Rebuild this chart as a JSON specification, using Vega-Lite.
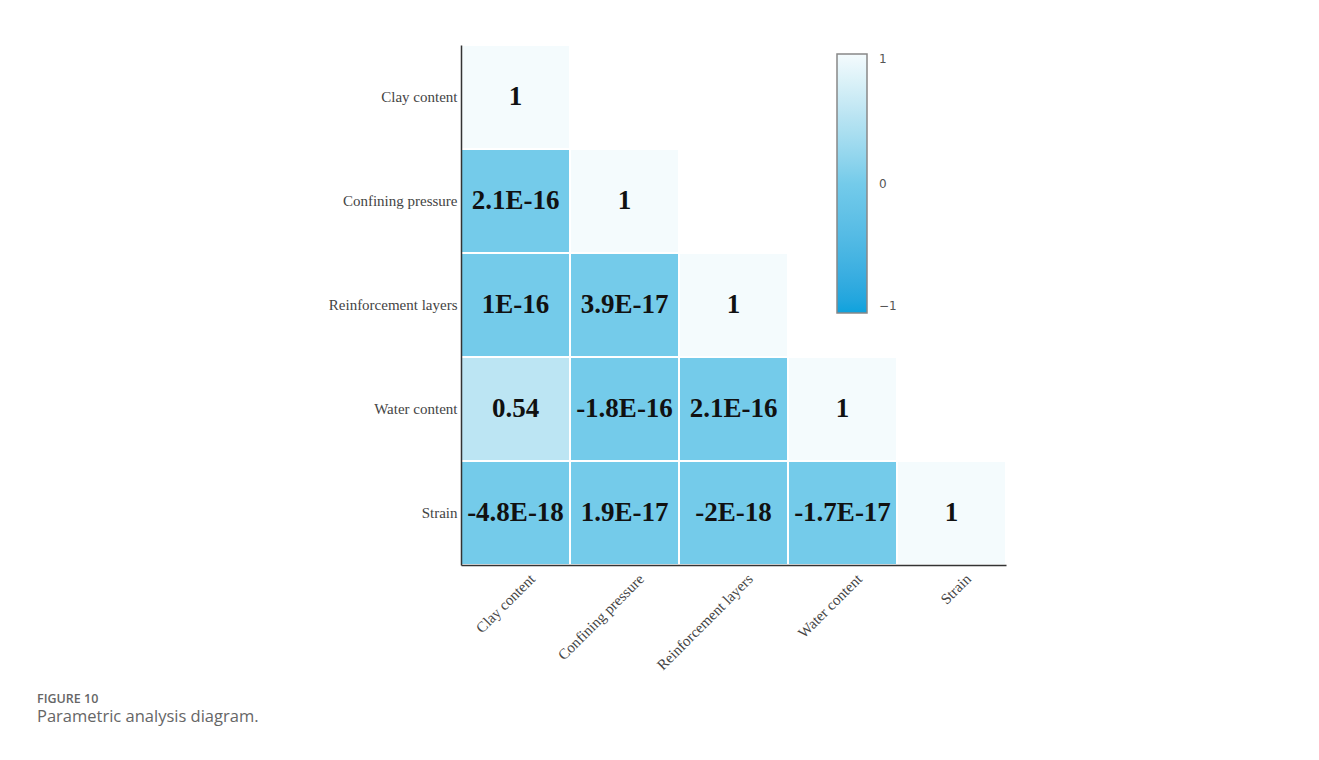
{
  "$schema": "https://vega.github.io/schema/vega-lite/v6.json",
  "autosize": {"type": "none"},
  "padding": {"left": 461, "top": 45, "right": 313, "bottom": 195},
  "width": 545,
  "height": 520,
  "background": "white",
  "title": {
    "text": "FIGURE 10",
    "subtitle": "Parametric analysis diagram.",
    "orient": "bottom",
    "anchor": "start",
    "frame": "group",
    "dx": -424,
    "offset": 20,
    "font": "Open Sans",
    "fontSize": 12.5,
    "fontWeight": 600,
    "color": "#666666",
    "subtitleFont": "Open Sans",
    "subtitleFontSize": 16.5,
    "subtitleColor": "#666666",
    "subtitlePadding": 4
  },
  "data": {
    "values": [
      {"row": "Clay content", "col": "Clay content", "value": 1, "label": "1"},
      {"row": "Confining pressure", "col": "Clay content", "value": 2.1e-16, "label": "2.1E-16"},
      {"row": "Confining pressure", "col": "Confining pressure", "value": 1, "label": "1"},
      {"row": "Reinforcement layers", "col": "Clay content", "value": 1e-16, "label": "1E-16"},
      {"row": "Reinforcement layers", "col": "Confining pressure", "value": 3.9e-17, "label": "3.9E-17"},
      {"row": "Reinforcement layers", "col": "Reinforcement layers", "value": 1, "label": "1"},
      {"row": "Water content", "col": "Clay content", "value": 0.54, "label": "0.54"},
      {"row": "Water content", "col": "Confining pressure", "value": -1.8e-16, "label": "-1.8E-16"},
      {"row": "Water content", "col": "Reinforcement layers", "value": 2.1e-16, "label": "2.1E-16"},
      {"row": "Water content", "col": "Water content", "value": 1, "label": "1"},
      {"row": "Strain", "col": "Clay content", "value": -4.8e-18, "label": "-4.8E-18"},
      {"row": "Strain", "col": "Confining pressure", "value": 1.9e-17, "label": "1.9E-17"},
      {"row": "Strain", "col": "Reinforcement layers", "value": -2e-18, "label": "-2E-18"},
      {"row": "Strain", "col": "Water content", "value": -1.7e-17, "label": "-1.7E-17"},
      {"row": "Strain", "col": "Strain", "value": 1, "label": "1"}
    ]
  },
  "encoding": {
    "x": {
      "field": "col",
      "type": "nominal",
      "scale": {"domain": ["Clay content", "Confining pressure", "Reinforcement layers", "Water content", "Strain"], "paddingInner": 0, "paddingOuter": 0},
      "axis": {
        "title": null,
        "ticks": false,
        "domainColor": "#333333",
        "domainWidth": 1.5,
        "labelAngle": -45,
        "labelFont": "Liberation Serif",
        "labelFontSize": 15,
        "labelColor": "#444444",
        "labelOffset": 12,
        "labelPadding": 6,
        "labelLimit": 300,
        "grid": false
      }
    },
    "y": {
      "field": "row",
      "type": "nominal",
      "scale": {"domain": ["Clay content", "Confining pressure", "Reinforcement layers", "Water content", "Strain"], "paddingInner": 0, "paddingOuter": 0},
      "axis": {
        "title": null,
        "ticks": false,
        "domainColor": "#333333",
        "domainWidth": 1.5,
        "labelFont": "Liberation Serif",
        "labelFontSize": 15,
        "labelColor": "#444444",
        "labelPadding": 4,
        "labelLimit": 300,
        "grid": false
      }
    }
  },
  "layer": [
    {
      "mark": {"type": "rect", "stroke": "white", "strokeWidth": 2},
      "encoding": {
        "color": {
          "field": "value",
          "type": "quantitative",
          "scale": {"type": "linear", "domain": [-1, 0, 1], "range": ["#0ea2dd", "#74cbea", "#f4fbfd"]},
          "legend": {
            "orient": "none",
            "legendX": 376,
            "legendY": 9,
            "direction": "vertical",
            "title": null,
            "gradientLength": 259,
            "gradientThickness": 30,
            "gradientStrokeColor": "#888888",
            "gradientStrokeWidth": 1.5,
            "values": [-1, 0, 1],
            "format": "d",
            "labelFont": "DejaVu Sans",
            "labelFontSize": 12,
            "labelColor": "#555555",
            "labelOffset": 12
          }
        }
      }
    },
    {
      "mark": {"type": "text", "font": "Liberation Serif", "fontWeight": "bold", "fontSize": 27, "color": "#111111"},
      "encoding": {"text": {"field": "label", "type": "nominal"}}
    }
  ],
  "config": {"view": {"stroke": null}}
}
